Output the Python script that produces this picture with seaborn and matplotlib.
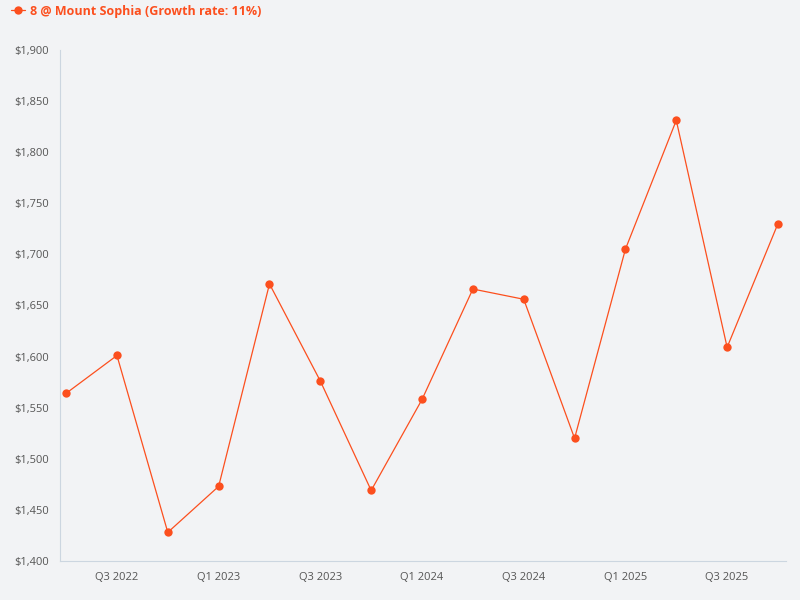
import matplotlib
matplotlib.use("Agg")
import matplotlib.pyplot as plt
import seaborn as sns
import pandas as pd
from matplotlib.ticker import FuncFormatter

quarters = ["Q2 2022","Q3 2022","Q4 2022","Q1 2023","Q2 2023","Q3 2023","Q4 2023",
            "Q1 2024","Q2 2024","Q3 2024","Q4 2024","Q1 2025","Q2 2025","Q3 2025","Q4 2025"]
prices = [1564,1601,1428,1473,1671,1576,1469,1558,1666,1656,1520,1705,1831,1609,1730]
series_name = "8 @ Mount Sophia (Growth rate: 11%)"

sns.set_theme(style="white")
plt.rcParams['font.family'] = ['Open Sans', 'DejaVu Sans']
bg = "#f2f3f5"
col = "#fc4f1e"
df = pd.DataFrame({"x": range(len(quarters)), "price": prices})

fig = plt.figure(figsize=(8, 6), dpi=100, facecolor=bg)
ax = fig.add_axes([0.075, 0.065, 0.907, 0.852])
ax.set_facecolor(bg)
sns.lineplot(data=df, x="x", y="price", ax=ax, color=col, linewidth=0.9,
             marker="o", markersize=6, markeredgewidth=0, label=series_name)
ax.set_xlim(-0.12, 14.15)
ax.set_ylim(1400, 1900)
ax.set_yticks(range(1400, 1901, 50))
ax.yaxis.set_major_formatter(FuncFormatter(lambda v, p: f"${int(v):,}"))
ax.set_xticks(range(1, len(quarters), 2))
ax.set_xticklabels(quarters[1::2])
ax.tick_params(axis="both", labelsize=8, colors="#555555", length=0, pad=8)
for s in ["top", "right"]:
    ax.spines[s].set_visible(False)
for s in ["left", "bottom"]:
    ax.spines[s].set_color("#ccd6e0")
    ax.spines[s].set_linewidth(0.8)
ax.set_xlabel(""); ax.set_ylabel("")
leg = ax.legend(loc="upper left", bbox_to_anchor=(-0.083, 1.11), frameon=False,
                fontsize=9, handlelength=1.1, handletextpad=0.4)
for t in leg.get_texts():
    t.set_color(col); t.set_fontweight("bold")
fig.savefig("out.png", dpi=100, facecolor=bg)
